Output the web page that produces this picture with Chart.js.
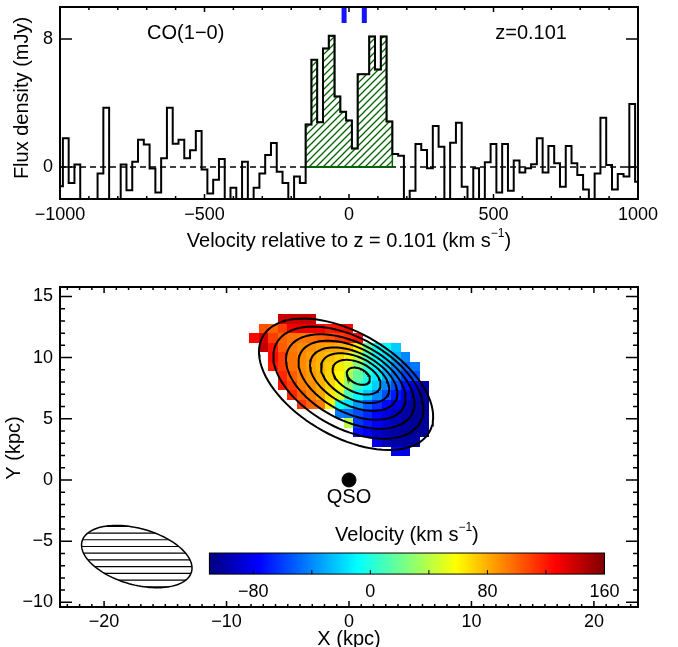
<!DOCTYPE html>
<html>
<head>
<meta charset="utf-8">
<script src="https://cdn.jsdelivr.net/npm/chart.js@4.4.1/dist/chart.umd.min.js"></script>
<style>
  html, body { margin: 0; padding: 0; background: #fff; }
  #wrap { position: relative; width: 678px; height: 647px; overflow: hidden; }
  canvas { position: absolute; left: 0; }
  #specChart { top: 0; }
  #mapChart { top: 262px; }
</style>
</head>
<body>
<div id="wrap">
  <canvas id="specChart" width="678" height="262" style="width:678px;height:262px"></canvas>
  <canvas id="mapChart" width="678" height="385" style="width:678px;height:385px"></canvas>
</div>
<script>
const FONT = "'Liberation Sans', Arial, Helvetica, sans-serif";

// ---- CO(1-0) spectrum: 20 km/s channels, centred from -1000 to +1000 km/s
const channelWidth = 20;
const flux = [
  -1.2, 1.8, -1.0, 0.15, -2.5, -2.5, -2.5, -0.4, 3.7, -2.5,
  -2.5, 0.15, -1.45, 0.33, 1.7, 1.4, -0.1, -1.6, 0.55, 3.7,
  1.45, 1.7, 0.55, 1.05, 2.25, -0.15, -1.65, -0.8, 0.5, -2.5,
  -1.3, -2.5, 0.33, -2.5, -1.3, -0.4, 0.75, 1.5, -0.3, -1.0,
  -2.5, -0.6, -1.0, 2.65, 6.7, 2.8, 7.4, 8.2, 4.4, 3.45,
  2.9, 1.15, 5.8, 5.8, 8.15, 6.1, 8.15, 2.85, 0.81, 0.71,
  -2.5, -1.48, 1.44, 1.06, -0.08, 2.56, 1.27, -2.5, 1.52, 2.77,
  -1.23, -2.5, -0.08, -2.5, 0.29, 1.44, -1.6, 1.44, -1.48, 0.4,
  -0.35, -0.08, 0.17, 1.79, -0.35, 1.31, 0.23, -1.23, 1.31, 0.23,
  -0.5, -1.4, -2.5, -0.4, 3.08, 0.12, -1.4, -0.44, -0.6, 3.94,
  -0.92
];
const channelVelocity = flux.map((_, i) => -1000 + i * channelWidth);
const lineWindow = [-150, 150];          // hatched CO(1-0) line channels
const markerVelocity = [-17, 53];        // blue marks at top
const specXTicks = [-1000, -500, 0, 500, 1000];
const specYTicks = [0, 8];

// ---- velocity field (km/s), rows from top (north) to bottom
const cellSize = 0.772;
const cellX = [-7.74, -6.97, -6.20, -5.42, -4.65, -3.88, -3.11, -2.34, -1.56, -0.79,
               -0.02, 0.75, 1.52, 2.30, 3.07, 3.84, 4.61, 5.38, 6.16];
const cellY = [13.14, 12.37, 11.60, 10.82, 10.05, 9.28, 8.51, 7.74, 6.96, 6.19,
               5.42, 4.65, 3.88, 3.10, 2.33];
const _ = null;
const velocityMap = [
  [_, _, _, 140, 140, 140, 140, _, _, _, _, _, _, _, _, _, _, _, _],
  [_, 105, 100, 110, 128, 132, 130, 128, 120, 122, 125, _, _, _, _, _, _, _, _],
  [125, 138, 110, 100, 96, 94, 96, 100, 104, 110, 115, 122, _, _, _, _, _, _, _],
  [_, 142, 122, 102, 94, 90, 88, 85, 82, 80, 78, 62, 18, -8, -10, -22, _, _, _],
  [_, _, 124, 110, 96, 90, 85, 80, 75, 70, 60, 40, 10, -10, -18, -30, -40, _, _],
  [_, _, 120, 110, 96, 90, 84, 78, 72, 64, 50, 26, 4, -10, -25, -40, -50, -45, _],
  [_, _, _, 116, 102, 92, 86, 80, 70, 60, 36, 18, 0, -14, -30, -46, -60, -56, _],
  [_, _, _, 120, 110, 94, 88, 80, 70, 56, 30, 8, -6, -22, -40, -56, -72, -86, -100],
  [_, _, _, _, 116, 102, 92, 82, 66, 48, 10, -10, -22, -40, -56, -70, -86, -96, -102],
  [_, _, _, _, _, 112, 100, 94, 62, -8, -16, -36, -52, -64, -74, -86, -96, -102, -104],
  [_, _, _, _, _, _, _, _, _, -44, -46, -56, -66, -76, -86, -94, -100, -104, -104],
  [_, _, _, _, _, _, _, _, _, _, 40, -62, -70, -78, -88, -96, -102, -104, -104],
  [_, _, _, _, _, _, _, _, _, _, _, -72, -78, -90, -96, -100, -104, -104, -104],
  [_, _, _, _, _, _, _, _, _, _, _, _, _, -84, -96, -100, -102, -100, _],
  [_, _, _, _, _, _, _, _, _, _, _, _, _, _, _, -80, -82, _, _]
];
const velocityRange = [-110, 160];
const colorbarTicks = [-80, -40, 0, 40, 80, 120, 160];
const colorbarLabels = [-80, 0, 80, 160];

// ---- CO intensity contours (outer to inner), kpc / deg
const contourCx = [-0.24, -0.05, 0.10, 0.25, 0.38, 0.50, 0.62, 0.76];
const contourCy = [7.82, 7.95, 8.05, 8.15, 8.24, 8.32, 8.40, 8.48];
const contourA = [7.84, 6.7, 5.7, 4.75, 3.85, 3.0, 2.1, 1.0];
const contourB = [4.24, 3.7, 3.15, 2.65, 2.15, 1.7, 1.2, 0.62];
const contourAngle = [-30, -29, -28, -28, -27, -27, -26, -25];

// ---- beam and QSO
const beam = { x: -17.33, y: -6.26, a: 4.64, b: 2.3, angle: -15.7 };
const qso = { x: 0, y: 0 };

const mapXTicks = [-20, -10, 0, 10, 20];
const mapYTicks = [-10, -5, 0, 5, 10, 15];

function minus(v) { return String(v).replace('-', '\u2212'); }
function range(a, b, step) {
  const out = [];
  for (let v = a; v <= b + 1e-9; v += step) out.push(Math.round(v * 1000) / 1000);
  return out;
}
function clamp01(v) { return Math.min(1, Math.max(0, v)); }
function jet(t) {
  t = clamp01(t);
  const r = clamp01(1.5 - Math.abs(4 * t - 3));
  const g = clamp01(1.5 - Math.abs(4 * t - 2));
  const b = clamp01(1.5 - Math.abs(4 * t - 1));
  return `rgb(${Math.round(r * 255)},${Math.round(g * 255)},${Math.round(b * 255)})`;
}
function velColor(v) {
  return jet((v - velocityRange[0]) / (velocityRange[1] - velocityRange[0]));
}
function ellipsePoints(cx, cy, a, b, angDeg, n) {
  const th = angDeg * Math.PI / 180, pts = [];
  for (let i = 0; i <= n; i++) {
    const t = 2 * Math.PI * i / n;
    const ex = a * Math.cos(t), ey = b * Math.sin(t);
    pts.push({ x: cx + ex * Math.cos(th) - ey * Math.sin(th), y: cy + ex * Math.sin(th) + ey * Math.cos(th) });
  }
  return pts;
}

// text with optional superscript pieces, centred on (cx, cy)
function drawRichText(ctx, parts, cx, cy, size) {
  const supSize = Math.round(size * 0.62);
  let w = 0;
  parts.forEach(p => {
    ctx.font = `${p.sup ? supSize : size}px ${FONT}`;
    p.w = ctx.measureText(p.t).width;
    w += p.w;
  });
  let xx = cx - w / 2;
  ctx.textAlign = 'left';
  ctx.textBaseline = 'middle';
  parts.forEach(p => {
    ctx.font = `${p.sup ? supSize : size}px ${FONT}`;
    ctx.fillText(p.t, xx, p.sup ? cy - size * 0.38 : cy);
    xx += p.w;
  });
}

function drawFrame(chart, o) {
  const { ctx, chartArea: a, scales: { x, y } } = chart;
  ctx.save();
  ctx.strokeStyle = '#000';
  ctx.lineWidth = 1.5;
  ctx.beginPath();
  const xTick = (v, len) => {
    if (v < x.min || v > x.max) return;
    const px = x.getPixelForValue(v);
    ctx.moveTo(px, a.bottom); ctx.lineTo(px, a.bottom - len);
    ctx.moveTo(px, a.top); ctx.lineTo(px, a.top + len);
  };
  const yTick = (v, len) => {
    if (v < y.min || v > y.max) return;
    const py = y.getPixelForValue(v);
    ctx.moveTo(a.left, py); ctx.lineTo(a.left + len, py);
    ctx.moveTo(a.right, py); ctx.lineTo(a.right - len, py);
  };
  o.xMinor.forEach(v => xTick(v, o.xMinorLen));
  o.xMajor.forEach(v => xTick(v, o.xMajorLen));
  o.yMinor.forEach(v => yTick(v, o.yMinorLen));
  o.yMajor.forEach(v => yTick(v, o.yMajorLen));
  ctx.stroke();
  ctx.lineWidth = 2;
  ctx.strokeRect(a.left, a.top, a.right - a.left, a.bottom - a.top);
  ctx.restore();
}

Chart.defaults.font.family = FONT;
Chart.defaults.font.size = 18;
Chart.defaults.color = '#000';

function fixedAxis(size, isX) {
  return s => {
    if (isX) { s.height = size; s.paddingLeft = 0; s.paddingRight = 0; }
    else { s.width = size; s.paddingTop = 0; s.paddingBottom = 0; }
  };
}

// ---------------- top panel: spectrum ----------------
function hatchPattern() {
  const c = document.createElement('canvas');
  c.width = 7; c.height = 7;
  const g = c.getContext('2d');
  g.strokeStyle = '#006400';
  g.lineWidth = 1.3;
  g.beginPath();
  g.moveTo(0, 7); g.lineTo(7, 0);
  g.moveTo(-1, 1); g.lineTo(1, -1);
  g.moveTo(6, 8); g.lineTo(8, 6);
  g.stroke();
  return g.createPattern(c, 'repeat');
}

const specPoints = channelVelocity.map((v, i) => ({ x: v, y: flux[i] }));
const inLine = specPoints.filter(p => p.x > lineWindow[0] && p.x < lineWindow[1]);
const hatchData = [
  { x: lineWindow[0], y: 0 },
  { x: lineWindow[0], y: inLine[0].y },
  ...inLine,
  { x: lineWindow[1], y: inLine[inLine.length - 1].y },
  { x: lineWindow[1], y: 0 }
];
const markerData = [];
markerVelocity.forEach((v, i) => {
  if (i > 0) markerData.push({ x: v - 1, y: null });
  markerData.push({ x: v, y: 9.0 }, { x: v, y: 9.93 });
});

const specDecor = {
  id: 'specDecor',
  afterDraw(chart) {
    drawFrame(chart, {
      xMajor: specXTicks, xMinor: range(-1000, 1000, 100),
      yMajor: specYTicks, yMinor: [],
      xMajorLen: 5, xMinorLen: 3, yMajorLen: 12, yMinorLen: 6
    });
    const { ctx, scales: { x, y } } = chart;
    ctx.save();
    ctx.fillStyle = '#000';
    drawRichText(ctx, [{ t: 'CO(1\u22120)' }], x.getPixelForValue(-565), y.getPixelForValue(8.35), 20);
    drawRichText(ctx, [{ t: 'z=0.101' }], x.getPixelForValue(630), y.getPixelForValue(8.35), 20);
    drawRichText(ctx, [{ t: 'Velocity relative to z = 0.101 (km s' }, { t: '\u22121', sup: true }, { t: ')' }], 349, 241, 20);
    ctx.translate(22, 98);
    ctx.rotate(-Math.PI / 2);
    drawRichText(ctx, [{ t: 'Flux density (mJy)' }], 0, 0, 20);
    ctx.restore();
  }
};

new Chart(document.getElementById('specChart'), {
  type: 'line',
  data: {
    datasets: [
      { data: specPoints, stepped: 'middle', borderColor: '#000', borderWidth: 2, pointRadius: 0, fill: false, order: 1 },
      { data: hatchData, stepped: 'middle', borderColor: '#006400', borderWidth: 1.5, pointRadius: 0,
        fill: 'origin', backgroundColor: hatchPattern(), order: 4 },
      { data: [{ x: -1000, y: 0 }, { x: 1000, y: 0 }], borderColor: '#000', borderWidth: 1.5,
        borderDash: [6, 4], pointRadius: 0, fill: false, order: 3 },
      { data: [{ x: lineWindow[0], y: 0 }, { x: lineWindow[1], y: 0 }], borderColor: '#006400',
        borderWidth: 2, pointRadius: 0, fill: false, order: 2 },
      { data: markerData, borderColor: '#1414ff', borderWidth: 5, borderCapStyle: 'butt',
        pointRadius: 0, fill: false, spanGaps: false, order: 0 }
    ]
  },
  options: {
    responsive: false,
    devicePixelRatio: 1,
    animation: false,
    events: [],
    layout: { padding: { top: 7, right: 40, left: 0, bottom: 0 } },
    plugins: { legend: { display: false }, tooltip: { enabled: false } },
    scales: {
      x: {
        type: 'linear', min: -1000, max: 1000,
        grid: { display: false, drawTicks: false }, border: { display: false },
        ticks: { padding: 5, autoSkip: false, maxRotation: 0, callback: v => minus(v) },
        afterBuildTicks: s => { s.ticks = specXTicks.map(v => ({ value: v })); },
        afterFit: fixedAxis(63, true)
      },
      y: {
        type: 'linear', min: -2, max: 10,
        grid: { display: false, drawTicks: false }, border: { display: false },
        ticks: { padding: 7, callback: v => minus(v) },
        afterBuildTicks: s => { s.ticks = specYTicks.map(v => ({ value: v })); },
        afterFit: fixedAxis(60, false)
      }
    }
  },
  plugins: [specDecor]
});

// ---------------- bottom panel: velocity map ----------------
const mapCells = {
  id: 'mapCells',
  beforeDatasetsDraw(chart) {
    const { ctx, scales: { x, y } } = chart;
    ctx.save();
    velocityMap.forEach((row, r) => row.forEach((v, c) => {
      if (v === null) return;
      const x0 = Math.round(x.getPixelForValue(cellX[c] - cellSize / 2));
      const x1 = Math.round(x.getPixelForValue(cellX[c] + cellSize / 2));
      const y0 = Math.round(y.getPixelForValue(cellY[r] + cellSize / 2));
      const y1 = Math.round(y.getPixelForValue(cellY[r] - cellSize / 2));
      ctx.fillStyle = velColor(v);
      ctx.fillRect(x0, y0, x1 - x0, y1 - y0);
    }));
    ctx.restore();
  }
};

const mapDecor = {
  id: 'mapDecor',
  afterDraw(chart) {
    const { ctx, scales: { x, y } } = chart;
    ctx.save();

    // beam ellipse with horizontal hatching
    const bp = ellipsePoints(beam.x, beam.y, beam.a, beam.b, beam.angle, 120)
      .map(p => [x.getPixelForValue(p.x), y.getPixelForValue(p.y)]);
    ctx.beginPath();
    bp.forEach(([px, py], i) => (i ? ctx.lineTo(px, py) : ctx.moveTo(px, py)));
    ctx.closePath();
    ctx.save();
    ctx.clip();
    ctx.strokeStyle = '#000';
    ctx.lineWidth = 1.2;
    ctx.beginPath();
    for (let k = -6; k <= 6; k++) {
      const py = y.getPixelForValue(beam.y + 0.275 + k * 0.55);
      ctx.moveTo(x.getPixelForValue(beam.x - beam.a - 1), py);
      ctx.lineTo(x.getPixelForValue(beam.x + beam.a + 1), py);
    }
    ctx.stroke();
    ctx.restore();
    ctx.beginPath();
    bp.forEach(([px, py], i) => (i ? ctx.lineTo(px, py) : ctx.moveTo(px, py)));
    ctx.closePath();
    ctx.lineWidth = 1.5;
    ctx.strokeStyle = '#000';
    ctx.stroke();

    // colour bar
    const cbX0 = x.getPixelForValue(-11.4), cbX1 = x.getPixelForValue(20.86);
    const cbY0 = y.getPixelForValue(-5.97), cbY1 = y.getPixelForValue(-7.69);
    const vToPx = v => cbX0 + (v - velocityRange[0]) / (velocityRange[1] - velocityRange[0]) * (cbX1 - cbX0);
    for (let px = Math.floor(cbX0); px < cbX1; px++) {
      const t = (px + 0.5 - cbX0) / (cbX1 - cbX0);
      ctx.fillStyle = jet(t);
      ctx.fillRect(px, cbY0, 1, cbY1 - cbY0);
    }
    ctx.lineWidth = 1;
    ctx.strokeStyle = '#000';
    ctx.strokeRect(cbX0, cbY0, cbX1 - cbX0, cbY1 - cbY0);
    ctx.beginPath();
    colorbarTicks.forEach(v => {
      const px = vToPx(v);
      ctx.moveTo(px, cbY1); ctx.lineTo(px, cbY1 - 4);
    });
    ctx.stroke();
    ctx.fillStyle = '#000';
    ctx.font = `18px ${FONT}`;
    ctx.textAlign = 'center';
    ctx.textBaseline = 'middle';
    colorbarLabels.forEach(v => ctx.fillText(minus(v), vToPx(v), cbY1 + 18));
    drawRichText(ctx, [{ t: 'Velocity (km s' }, { t: '\u22121', sup: true }, { t: ')' }],
      (cbX0 + cbX1) / 2, y.getPixelForValue(-4.5), 20);

    // labels
    drawRichText(ctx, [{ t: 'QSO' }], x.getPixelForValue(qso.x), y.getPixelForValue(-1.4), 20);
    drawRichText(ctx, [{ t: 'X (kpc)' }], 349, 377, 20);
    ctx.translate(14, 186);
    ctx.rotate(-Math.PI / 2);
    drawRichText(ctx, [{ t: 'Y (kpc)' }], 0, 0, 20);
    ctx.restore();

    drawFrame(chart, {
      xMajor: mapXTicks, xMinor: range(-23, 23, 1),
      yMajor: mapYTicks, yMinor: range(-10, 15, 1),
      xMajorLen: 6, xMinorLen: 3, yMajorLen: 12, yMinorLen: 5
    });
  }
};

const contourSets = contourA.map((a, i) => ({
  data: ellipsePoints(contourCx[i], contourCy[i], a, contourB[i], contourAngle[i], 90),
  showLine: true, borderColor: '#000', borderWidth: 2, pointRadius: 0, fill: false, order: 2
}));

new Chart(document.getElementById('mapChart'), {
  type: 'scatter',
  data: {
    datasets: [
      ...contourSets,
      { data: [qso], pointRadius: 7, backgroundColor: '#000', borderColor: '#000', order: 0 }
    ]
  },
  options: {
    responsive: false,
    devicePixelRatio: 1,
    animation: false,
    events: [],
    layout: { padding: { top: 25, right: 40, left: 0, bottom: 0 } },
    plugins: { legend: { display: false }, tooltip: { enabled: false } },
    scales: {
      x: {
        type: 'linear', min: -23.6, max: 23.6,
        grid: { display: false, drawTicks: false }, border: { display: false },
        ticks: { padding: 4, autoSkip: false, maxRotation: 0, callback: v => minus(v) },
        afterBuildTicks: s => { s.ticks = mapXTicks.map(v => ({ value: v })); },
        afterFit: fixedAxis(40, true)
      },
      y: {
        type: 'linear', min: -10.38, max: 15.77,
        grid: { display: false, drawTicks: false }, border: { display: false },
        ticks: { padding: 7, callback: v => minus(v) },
        afterBuildTicks: s => { s.ticks = mapYTicks.map(v => ({ value: v })); },
        afterFit: fixedAxis(60, false)
      }
    }
  },
  plugins: [mapCells, mapDecor]
});
</script>
</body>
</html>
